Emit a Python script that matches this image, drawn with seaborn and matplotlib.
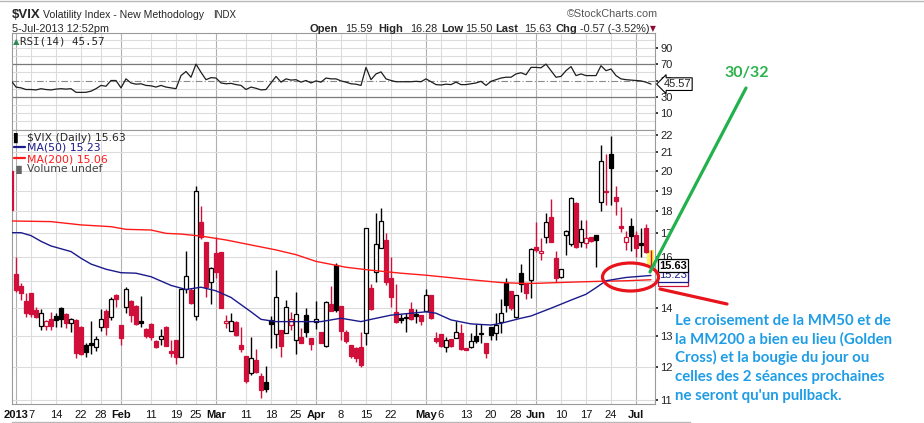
import numpy as np
import pandas as pd
import seaborn as sns
import matplotlib.pyplot as plt
from matplotlib.patches import Rectangle, Ellipse
from matplotlib.lines import Line2D

W, H = 924, 423
RED = '#d0103a'
NAVY = '#1a1a8c'
GRID = '#dcdcdc'
MONTH_GRID = '#b0b0b0'

# one row per session, first row is 31-Dec-2012 (only a sliver shows at the left edge)
opens = [20.00, 15.29, 14.81, 14.25, 14.53, 13.92, 13.35, 13.35, 13.58, 13.69, 14.00, 13.76, 13.46, 13.56, 13.32,
         12.70, 12.78, 12.64, 13.30, 13.89, 13.65, 14.47, 13.38, 14.02, 14.23, 14.06, 13.51, 13.24, 13.41, 12.85,
         12.89, 13.32, 12.51, 12.87, 12.31, 14.69, 14.66, 13.69, 17.52, 16.63, 14.98, 16.14, 16.21, 13.44, 13.19,
         13.50, 12.70, 12.33, 11.79, 12.21, 11.71, 11.54, 13.56, 13.07, 13.21, 13.10, 13.38, 12.87, 12.96, 13.72,
         12.93, 13.50, 13.14, 12.67, 14.13, 15.65, 14.06, 13.13, 12.70, 12.59, 12.64, 13.12, 14.73, 15.35, 16.35,
         16.71, 15.12, 13.84, 13.62, 13.67, 13.95, 13.76, 13.73, 13.89, 14.49, 12.93, 13.07, 12.64, 12.90, 12.93,
         13.12, 12.59, 12.62, 13.00, 13.07, 12.78, 13.30, 13.10, 13.47, 14.94, 14.62, 13.66, 15.32, 14.92, 15.05,
         16.42, 16.15, 16.86, 17.76, 15.93, 15.18, 16.93, 16.52, 18.39, 16.63, 16.56, 16.86, 16.93, 18.43, 18.99,
         20.90, 18.71, 17.31, 16.60, 17.31, 16.93, 16.56, 17.22, 15.59]
highs = [20.00, 15.99, 14.94, 14.55, 14.55, 14.04, 13.95, 13.56, 13.86, 13.82, 14.04, 13.80, 13.62, 13.58, 13.35,
         12.78, 13.52, 13.00, 13.95, 13.95, 14.41, 14.50, 13.38, 14.79, 14.28, 14.10, 14.43, 13.27, 13.44, 12.87,
         13.23, 13.35, 12.87, 12.87, 14.74, 16.24, 14.74, 19.26, 18.25, 16.63, 15.58, 16.82, 16.21, 13.72, 13.79,
         13.52, 13.32, 12.33, 12.98, 12.56, 11.79, 12.02, 13.70, 15.45, 13.21, 14.28, 13.86, 14.59, 13.27, 13.98,
         12.93, 14.24, 13.14, 14.24, 14.81, 15.72, 14.06, 13.21, 12.70, 12.64, 13.15, 17.25, 14.89, 17.92, 18.17,
         17.00, 15.99, 14.89, 13.76, 13.82, 14.20, 13.95, 13.73, 14.70, 14.49, 13.15, 13.07, 12.98, 12.90, 13.53,
         13.41, 12.59, 13.12, 13.41, 13.41, 12.78, 13.30, 13.82, 14.34, 15.12, 14.62, 14.49, 15.68, 14.92, 16.35,
         17.52, 16.78, 17.92, 18.60, 16.24, 15.49, 17.15, 18.70, 18.47, 17.60, 17.60, 16.86, 16.93, 21.41, 20.94,
         21.91, 19.23, 18.23, 17.10, 17.70, 17.10, 17.22, 17.40, 16.28]
lows = [18.02, 14.59, 14.28, 13.65, 13.66, 13.62, 13.21, 13.21, 13.21, 13.32, 13.32, 13.27, 13.15, 12.29, 12.37,
        12.32, 12.40, 12.51, 13.19, 13.04, 13.56, 14.04, 12.70, 13.79, 13.50, 13.38, 13.32, 12.93, 12.87, 12.59,
        12.70, 12.67, 12.31, 12.10, 12.30, 14.53, 14.13, 13.56, 16.75, 14.41, 14.13, 15.12, 14.00, 13.27, 13.19,
        13.00, 12.47, 11.51, 11.74, 11.79, 11.05, 11.24, 12.59, 12.59, 12.31, 13.10, 13.21, 12.40, 12.76, 12.98,
        12.53, 13.23, 12.75, 12.62, 13.89, 13.86, 12.87, 12.78, 12.26, 12.16, 12.00, 12.70, 13.92, 14.98, 16.35,
        14.85, 14.04, 13.44, 13.44, 13.15, 13.56, 13.44, 13.38, 13.89, 13.58, 12.78, 12.64, 12.47, 12.64, 12.93,
        12.53, 12.53, 12.59, 12.78, 12.78, 12.26, 12.87, 12.87, 13.10, 13.86, 13.92, 13.62, 14.59, 14.34, 14.36,
        16.21, 15.86, 16.56, 16.60, 14.98, 15.14, 16.07, 16.46, 16.38, 16.42, 16.38, 16.63, 15.58, 18.02, 18.31,
        18.31, 17.84, 17.05, 16.28, 16.24, 15.99, 15.99, 16.14, 15.50]
closes = [18.07, 14.66, 14.55, 13.82, 13.76, 13.66, 13.82, 13.51, 13.35, 13.56, 13.60, 13.44, 13.58, 12.44, 12.42,
          12.46, 12.69, 12.89, 13.58, 13.32, 14.34, 14.31, 12.93, 14.69, 13.73, 13.41, 13.46, 13.00, 12.98, 12.62,
          13.00, 12.67, 12.44, 12.31, 14.69, 15.22, 14.16, 19.00, 16.86, 14.76, 15.54, 15.38, 14.00, 13.51, 13.53,
          13.04, 12.56, 11.57, 12.29, 11.85, 11.29, 11.31, 13.41, 14.39, 12.68, 14.02, 13.58, 13.76, 12.78, 13.15,
          12.72, 13.58, 12.78, 14.22, 13.89, 13.92, 13.19, 12.84, 12.33, 12.26, 12.05, 17.25, 13.95, 16.52, 17.56,
          14.98, 14.41, 13.50, 13.56, 13.62, 13.61, 13.69, 13.52, 14.49, 13.62, 12.82, 12.67, 12.87, 12.67, 13.15,
          12.56, 12.55, 12.82, 12.84, 13.12, 12.44, 13.04, 13.38, 13.82, 14.10, 14.00, 14.49, 14.88, 14.53, 16.31,
          16.28, 16.24, 17.50, 16.60, 15.14, 15.49, 17.10, 18.63, 16.42, 17.18, 16.81, 16.67, 16.69, 20.54, 18.92,
          20.15, 18.50, 17.24, 16.86, 16.88, 16.38, 16.49, 16.21, 15.63]
rsi = [50, 42, 41, 39, 39, 38.5, 40, 39, 38.5, 39.5, 40, 39.5, 40, 35.6, 35.5, 35.6, 37, 40, 44, 43, 50, 50, 41,
       52, 47, 45.5, 46, 44, 43.5, 42, 44, 42, 41, 40, 56, 61, 54, 70, 60, 51, 53.5, 53, 47, 46, 46.5, 45, 44, 39,
       42, 40.5, 38.5, 39, 47, 55, 48, 52, 50.5, 51, 48, 50, 47, 49.5, 48, 53, 52, 52, 49.5, 48, 46, 45.5, 44, 66,
       51, 58, 60.5, 52, 50, 48.5, 48.5, 48.5, 48.5, 49, 48.5, 52, 48.5, 45, 44.5, 45.5, 45, 48, 45, 45, 46, 47, 49,
       44, 49, 51, 53, 54, 54, 58, 59.5, 57, 66, 66, 65.5, 70, 62, 54, 55, 62, 67, 56, 58, 56, 56, 56, 68, 62, 64,
       56, 52, 51, 50.5, 50, 49.5, 48, 45.57]

# moving averages at a handful of sessions
ma50_day = [-1, 1, 3, 5, 7, 11, 13, 15, 18, 21, 24, 27, 31, 34, 37, 40, 43, 47, 49, 52, 57, 61, 65, 69, 71, 75,
            82, 84, 87, 91, 95, 97, 101, 103, 107, 111, 114, 116, 118, 122, 127]
ma50 = [17.03, 17.03, 16.90, 16.65, 16.45, 16.21, 15.93, 15.69, 15.48, 15.34, 15.32, 15.18, 14.84, 14.68, 14.77,
        14.63, 14.38, 13.85, 13.58, 13.50, 13.50, 13.50, 13.62, 13.50, 13.58, 13.73, 13.85, 13.80, 13.56, 13.42,
        13.38, 13.44, 13.62, 13.70, 13.98, 14.28, 14.50, 14.75, 15.02, 15.15, 15.23]
ma200_day = [-1, 7, 13, 19, 22, 27, 30, 33, 37, 42, 48, 52, 56, 60, 66, 71, 77, 82, 87, 91, 97, 101, 104, 110,
             117, 122, 127]
ma200 = [17.56, 17.53, 17.38, 17.30, 17.18, 17.15, 17.00, 16.97, 16.88, 16.71, 16.45, 16.28, 16.08, 15.80, 15.56,
         15.44, 15.32, 15.24, 15.14, 15.06, 14.95, 14.92, 14.92, 14.96, 15.00, 15.02, 15.06]

tick_day = [0, 3, 8, 13, 17, 21, 27, 32, 36, 40, 46, 51, 56, 60, 65, 70, 75, 82, 85, 90, 95, 100, 104, 109,
            114, 119, 124]
tick_lbl = ['2013', '7', '14', '22', '28', 'Feb', '11', '19', '25', 'Mar', '11', '18', '25', 'Apr', '8', '15',
            '22', 'May', '6', '13', '20', '28', 'Jun', '10', '17', '24', 'Jul']
price_ticks = list(range(11, 23))
rsi_ticks = [90, 70, 50, 30, 10]

sns.set_theme(style='white')
plt.rcParams['font.family'] = ['Liberation Sans', 'DejaVu Sans']


def px(x, y):
    return x / W, 1 - y / H


fig = plt.figure(figsize=(W / 100, H / 100), dpi=100)
ax_rsi = fig.add_axes([12 / W, 1 - 130 / H, 643 / W, 96.7 / H])
ax = fig.add_axes([12 / W, 1 - 404 / H, 643 / W, 274 / H])

pos = np.arange(-1, len(closes) - 1)
df = pd.DataFrame({'pos': pos, 'open': opens, 'high': highs, 'low': lows, 'close': closes})
prev = df['close'].shift(1).fillna(df['open'])
edge = np.where(df['close'] >= prev, 'black', RED)
face = np.where(df['close'] > df['open'], 'white', edge)
xmin, xmax = -0.8, 127.8
is_month = [lbl.isalpha() or lbl == '2013' for lbl in tick_lbl]

# ---- RSI panel
for a in (ax_rsi, ax):
    for t, m in zip(tick_day, is_month):
        a.axvline(t, color=MONTH_GRID if m else GRID, lw=0.8, zorder=0)
    for s in a.spines.values():
        s.set_color('#9a9a9a')
        s.set_linewidth(0.8)

for lvl in range(0, 101, 10):
    if lvl in (30, 70):
        ax_rsi.axhline(lvl, color='#7a7a7a', lw=0.9, zorder=1)
    elif lvl == 50:
        ax_rsi.axhline(lvl, color='#8a8a8a', lw=0.8, ls=(0, (6, 2, 1, 2)), zorder=1)
    else:
        ax_rsi.axhline(lvl, color=GRID, lw=0.8, zorder=0)

sns.lineplot(x=pos, y=rsi, ax=ax_rsi, color='#1e1e1e', lw=0.9, zorder=3)
ax_rsi.set_xlim(xmin, xmax)
ax_rsi.set_ylim(-10.4, 107.6)
ax_rsi.set_xticks([])
ax_rsi.yaxis.tick_right()
ax_rsi.set_yticks(rsi_ticks)
ax_rsi.set_yticklabels([str(v) for v in rsi_ticks])
ax_rsi.tick_params(axis='y', labelsize=8, length=2, pad=2, colors='#222222')
ax_rsi.set_xlabel('')
ax_rsi.set_ylabel('')
ax_rsi.annotate(f'{rsi[-1]:.2f}', xy=(1.0, rsi[-1]), xycoords=ax_rsi.get_yaxis_transform(),
                xytext=(6, 0), textcoords='offset points', va='center', ha='left', fontsize=8,
                bbox=dict(boxstyle='larrow,pad=0.12', fc='white', ec='black', lw=0.8),
                annotation_clip=False, zorder=6)

# ---- price panel
ax.set_yscale('log')
for p in price_ticks:
    ax.axhline(p, color=GRID, lw=0.8, zorder=0)

ax.add_patch(Rectangle((pos[-1] - 0.85, closes[-1]), 1.45, highs[-1] - closes[-1],
                       fc='#fff35c', ec='none', zorder=1.5))
ax.vlines(df['pos'], df['low'], df['high'], colors=edge, lw=1, zorder=2)
ax.bar(df['pos'], (df['close'] - df['open']).abs(), bottom=df[['open', 'close']].min(axis=1),
       width=0.74, color=face, edgecolor=edge, linewidth=0.9, zorder=3)

sns.lineplot(x=ma200_day, y=ma200, ax=ax, color='#ff1a1a', lw=1.0, zorder=4)
sns.lineplot(x=ma50_day, y=ma50, ax=ax, color=NAVY, lw=1.0, zorder=4)

ax.set_xlim(xmin, xmax)
ax.set_ylim(10.886, 22.27)
ax.yaxis.tick_right()
ax.set_yticks(price_ticks)
ax.set_yticks([], minor=True)
ax.set_yticklabels([str(v) for v in price_ticks])
ax.tick_params(axis='y', labelsize=8, length=2, pad=2, colors='#222222')
ax.set_xticks(tick_day)
ax.set_xticklabels(tick_lbl)
ax.tick_params(axis='x', labelsize=8, length=0, pad=4, colors='#111111')
for lbl, m in zip(ax.get_xticklabels(), is_month):
    if m:
        lbl.set_fontweight('bold')
ax.set_xlabel('')
ax.set_ylabel('')

for val, col, bold in [(ma200[-1], RED, False), (ma50[-1], NAVY, False), (closes[-1], 'black', True)]:
    ax.annotate(f'{val:.2f}', xy=(1.0, val), xycoords=ax.get_yaxis_transform(),
                xytext=(3, 0), textcoords='offset points', va='center', ha='left', fontsize=8,
                color=col, fontweight='bold' if bold else 'normal',
                bbox=dict(boxstyle='square,pad=0.12', fc='white', ec=col, lw=0.9),
                annotation_clip=False, zorder=6)

# ---- header
fig.add_artist(Line2D([0, 1], [px(0, 1.5)[1]] * 2, color='#b8b8b8', lw=1))
fig.text(*px(12, 18), '$VIX', fontsize=9.5, fontweight='bold')
fig.text(*px(43, 18), 'Volatility Index - New Methodology', fontsize=7.6)
fig.text(*px(213, 18), 'INDX', fontsize=7)
fig.text(*px(12, 32), '5-Jul-2013 12:52pm', fontsize=7.8)
fig.text(*px(567, 17), '\u00a9StockCharts.com', fontsize=7.8, color='#555555')
quote = [('Open', 310, True), ('15.59', 345, False), ('High', 378, True), ('16.28', 410, False),
         ('Low', 441, True), ('15.50', 465, False), ('Last', 495, True), ('15.63', 524, False),
         ('Chg', 555, True), ('-0.57 (-3.52%)', 580, False)]
for txt, x0, bold in quote:
    fig.text(*px(x0, 32), txt, fontsize=8.0 if bold else 7.8, fontweight='bold' if bold else 'normal')
fig.text(*px(650, 31), '\u25bc', fontsize=5.5, color='#8b0a3a', family='DejaVu Sans')

# panel captions
fig.text(*px(13, 44), '\u25b2', fontsize=6, color='#2e8b57', family='DejaVu Sans')
fig.text(*px(20, 44), 'RSI(14) 45.57', fontsize=7.8, family='DejaVu Sans Mono')
fig.text(*px(13, 141), '\u258c', fontsize=7, color='black', family='DejaVu Sans')
fig.text(*px(27, 141), '$VIX (Daily) 15.63', fontsize=7.8, family='DejaVu Sans')
fig.add_artist(Line2D([px(14, 0)[0], px(25, 0)[0]], [px(0, 147)[1]] * 2, color=NAVY, lw=1.6))
fig.text(*px(27, 151), 'MA(50) 15.23', fontsize=7.8, color=NAVY, family='DejaVu Sans')
fig.add_artist(Line2D([px(14, 0)[0], px(25, 0)[0]], [px(0, 158)[1]] * 2, color='#ff1a1a', lw=1.6))
fig.text(*px(27, 162), 'MA(200) 15.06', fontsize=7.8, color='#ff1a1a', family='DejaVu Sans')
fig.text(*px(13, 172), '\u2590\u258c', fontsize=6, color='#666666', family='DejaVu Sans')
fig.text(*px(27, 172), 'Volume undef', fontsize=7.8, color='#444444', family='DejaVu Sans')
fig.add_artist(Line2D([px(12, 0)[0], px(690, 0)[0]], [px(0, 421.5)[1]] * 2, color='#b8b8b8', lw=1))

# ---- hand-drawn annotations
fig.text(*px(724, 77), '30/32', fontsize=11.5, fontweight='bold', color='#2bb24c', family='Lato')
fig.add_artist(Line2D([px(746, 0)[0], px(650, 0)[0]], [px(0, 88)[1], px(0, 272)[1]],
                      color='#22b14c', lw=2.3, solid_capstyle='round'))
fig.add_artist(Ellipse(px(630.5, 277), 56 / W, 28 / H, fill=False, ec='#e8141c', lw=2.3))
fig.add_artist(Line2D([px(660, 0)[0], px(727, 0)[0]], [px(0, 289)[1], px(0, 304)[1]],
                      color='#e8141c', lw=2.3))
note = ['Le croisement de la MM50 et de',
        'la MM200 a bien eu lieu (Golden',
        'Cross) et la bougie du jour ou',
        'celles des 2 s\u00e9ances prochaines',
        "ne seront qu'un pullback."]
for k, line in enumerate(note):
    fig.text(*px(675, 325 + 18.7 * k), line, fontsize=10.8, fontweight='bold', color='#1e9de6', family='Lato')

fig.savefig('out.png', dpi=100)
